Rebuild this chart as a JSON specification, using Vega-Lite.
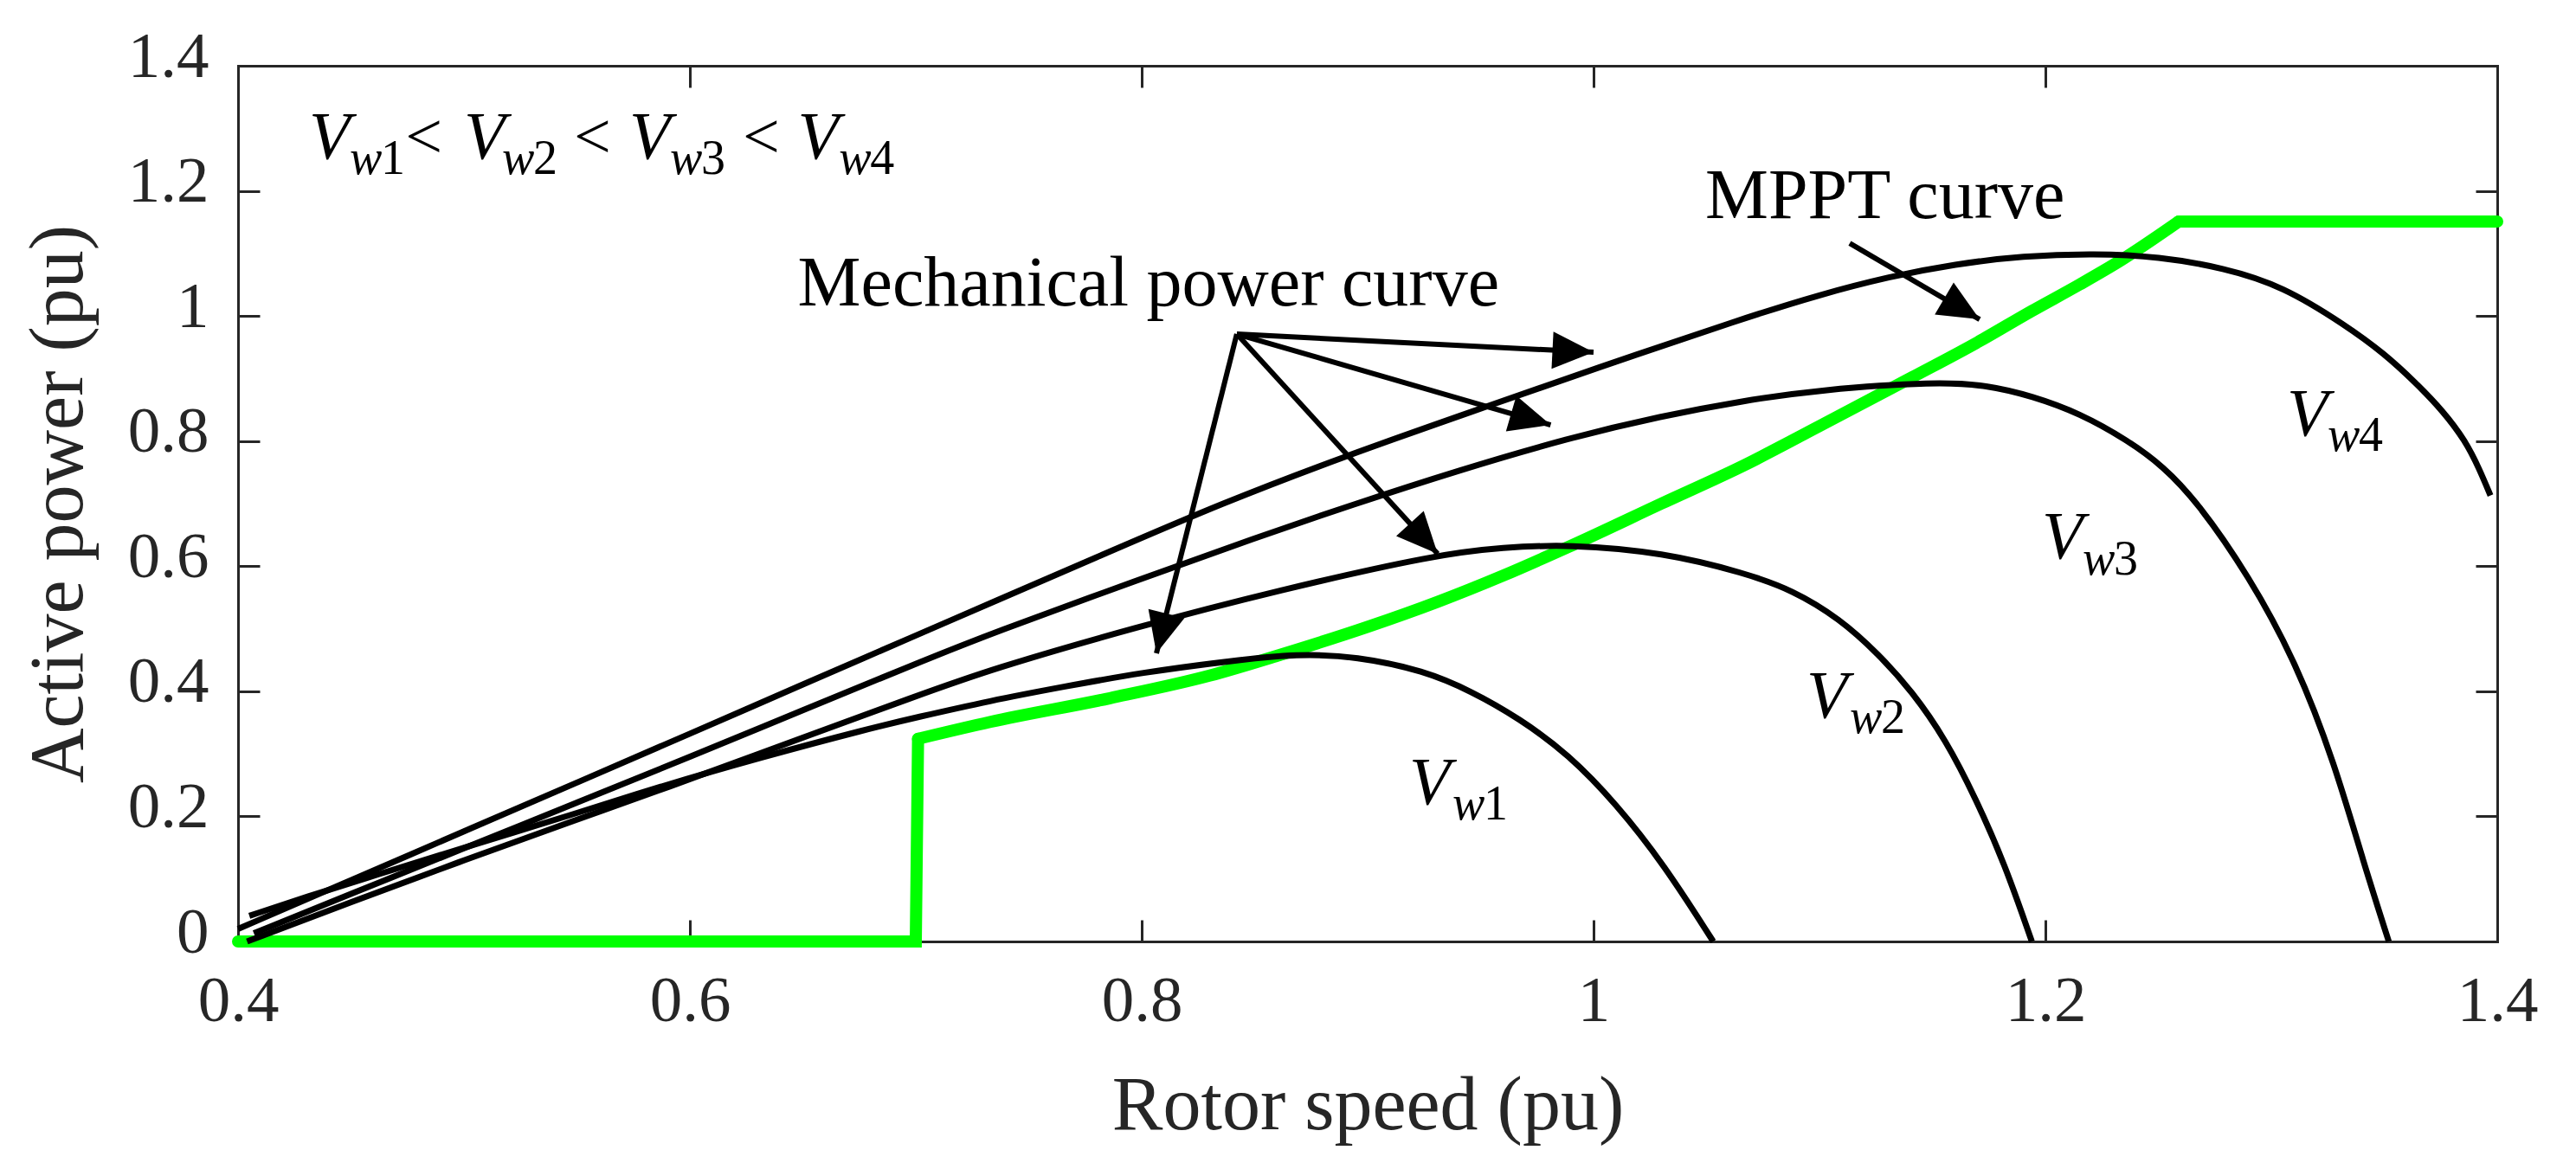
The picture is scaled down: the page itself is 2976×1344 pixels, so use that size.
{
  "$schema": "https://vega.github.io/schema/vega-lite/v6.json",
  "width": 2610,
  "height": 1012,
  "autosize": {"type": "none"},
  "padding": {"left": 275, "top": 76, "right": 91, "bottom": 256},
  "background": "white",
  "config": {"view": {"stroke": null}, "font": "Liberation Serif"},
  "datasets": {
    "green": [
      {"seg": "a", "i": 0, "x": 0.4, "y": 0}, {"seg": "a", "i": 1, "x": 0.7, "y": 0}, {"seg": "a", "i": 2, "x": 0.701, "y": 0.324},
      {"seg": "b", "i": 3, "x": 0.701, "y": 0.324},
      {"seg": "b", "i": 4, "x": 0.733, "y": 0.351}, {"seg": "b", "i": 5, "x": 0.786, "y": 0.389}, {"seg": "b", "i": 6, "x": 0.83, "y": 0.425},
      {"seg": "b", "i": 7, "x": 0.861, "y": 0.458}, {"seg": "b", "i": 8, "x": 0.9, "y": 0.503}, {"seg": "b", "i": 9, "x": 0.931, "y": 0.543},
      {"seg": "b", "i": 10, "x": 0.96, "y": 0.585}, {"seg": "b", "i": 11, "x": 0.989, "y": 0.631}, {"seg": "b", "i": 12, "x": 1.03, "y": 0.7},
      {"seg": "b", "i": 13, "x": 1.067, "y": 0.762}, {"seg": "b", "i": 14, "x": 1.1, "y": 0.824}, {"seg": "b", "i": 15, "x": 1.141, "y": 0.902},
      {"seg": "b", "i": 16, "x": 1.17, "y": 0.958}, {"seg": "b", "i": 17, "x": 1.194, "y": 1.008}, {"seg": "b", "i": 18, "x": 1.215, "y": 1.05},
      {"seg": "b", "i": 19, "x": 1.233, "y": 1.088}, {"seg": "b", "i": 20, "x": 1.259, "y": 1.151},
      {"seg": "c", "i": 21, "x": 1.259, "y": 1.151}, {"seg": "c", "i": 22, "x": 1.4, "y": 1.151}
    ],
    "curves": [
      {"s": "V1", "x": 0.405, "y": 0.041}, {"s": "V1", "x": 0.43, "y": 0.071}, {"s": "V1", "x": 0.46, "y": 0.105},
      {"s": "V1", "x": 0.5, "y": 0.15}, {"s": "V1", "x": 0.55, "y": 0.205}, {"s": "V1", "x": 0.587, "y": 0.248},
      {"s": "V1", "x": 0.63, "y": 0.293}, {"s": "V1", "x": 0.68, "y": 0.341}, {"s": "V1", "x": 0.7, "y": 0.358},
      {"s": "V1", "x": 0.733, "y": 0.385}, {"s": "V1", "x": 0.765, "y": 0.407}, {"s": "V1", "x": 0.8, "y": 0.43},
      {"s": "V1", "x": 0.84, "y": 0.449}, {"s": "V1", "x": 0.869, "y": 0.46}, {"s": "V1", "x": 0.895, "y": 0.456},
      {"s": "V1", "x": 0.925, "y": 0.433}, {"s": "V1", "x": 0.946, "y": 0.4}, {"s": "V1", "x": 0.967, "y": 0.357},
      {"s": "V1", "x": 0.989, "y": 0.299}, {"s": "V1", "x": 1.01, "y": 0.22}, {"s": "V1", "x": 1.031, "y": 0.124},
      {"s": "V1", "x": 1.053, "y": 0.0},
      {"s": "V2", "x": 0.404, "y": 0.0}, {"s": "V2", "x": 0.45, "y": 0.063}, {"s": "V2", "x": 0.5, "y": 0.13},
      {"s": "V2", "x": 0.55, "y": 0.195}, {"s": "V2", "x": 0.587, "y": 0.242}, {"s": "V2", "x": 0.65, "y": 0.326},
      {"s": "V2", "x": 0.7, "y": 0.392}, {"s": "V2", "x": 0.733, "y": 0.435}, {"s": "V2", "x": 0.797, "y": 0.502},
      {"s": "V2", "x": 0.861, "y": 0.562}, {"s": "V2", "x": 0.931, "y": 0.619}, {"s": "V2", "x": 0.96, "y": 0.63},
      {"s": "V2", "x": 0.989, "y": 0.635}, {"s": "V2", "x": 1.031, "y": 0.622}, {"s": "V2", "x": 1.067, "y": 0.589},
      {"s": "V2", "x": 1.088, "y": 0.562}, {"s": "V2", "x": 1.109, "y": 0.516}, {"s": "V2", "x": 1.126, "y": 0.46},
      {"s": "V2", "x": 1.141, "y": 0.4}, {"s": "V2", "x": 1.156, "y": 0.322}, {"s": "V2", "x": 1.169, "y": 0.23},
      {"s": "V2", "x": 1.182, "y": 0.124}, {"s": "V2", "x": 1.194, "y": 0.0},
      {"s": "V3", "x": 0.407, "y": 0.013}, {"s": "V3", "x": 0.45, "y": 0.076}, {"s": "V3", "x": 0.5, "y": 0.149},
      {"s": "V3", "x": 0.55, "y": 0.222}, {"s": "V3", "x": 0.6, "y": 0.295}, {"s": "V3", "x": 0.65, "y": 0.37},
      {"s": "V3", "x": 0.7, "y": 0.444}, {"s": "V3", "x": 0.733, "y": 0.492}, {"s": "V3", "x": 0.8, "y": 0.58},
      {"s": "V3", "x": 0.85, "y": 0.645}, {"s": "V3", "x": 0.893, "y": 0.698}, {"s": "V3", "x": 0.94, "y": 0.753},
      {"s": "V3", "x": 0.989, "y": 0.805}, {"s": "V3", "x": 1.03, "y": 0.84}, {"s": "V3", "x": 1.067, "y": 0.865},
      {"s": "V3", "x": 1.1, "y": 0.882}, {"s": "V3", "x": 1.152, "y": 0.895}, {"s": "V3", "x": 1.175, "y": 0.889},
      {"s": "V3", "x": 1.194, "y": 0.872}, {"s": "V3", "x": 1.215, "y": 0.845}, {"s": "V3", "x": 1.237, "y": 0.8},
      {"s": "V3", "x": 1.252, "y": 0.76}, {"s": "V3", "x": 1.267, "y": 0.704}, {"s": "V3", "x": 1.29, "y": 0.585},
      {"s": "V3", "x": 1.311, "y": 0.446}, {"s": "V3", "x": 1.328, "y": 0.285}, {"s": "V3", "x": 1.341, "y": 0.124},
      {"s": "V3", "x": 1.352, "y": 0.0},
      {"s": "V4", "x": 0.4, "y": 0.02}, {"s": "V4", "x": 0.45, "y": 0.098}, {"s": "V4", "x": 0.5, "y": 0.176},
      {"s": "V4", "x": 0.55, "y": 0.254}, {"s": "V4", "x": 0.6, "y": 0.332}, {"s": "V4", "x": 0.65, "y": 0.411},
      {"s": "V4", "x": 0.7, "y": 0.489}, {"s": "V4", "x": 0.733, "y": 0.541}, {"s": "V4", "x": 0.785, "y": 0.622},
      {"s": "V4", "x": 0.835, "y": 0.7}, {"s": "V4", "x": 0.89, "y": 0.776}, {"s": "V4", "x": 0.946, "y": 0.847},
      {"s": "V4", "x": 1.0, "y": 0.915}, {"s": "V4", "x": 1.067, "y": 0.997}, {"s": "V4", "x": 1.1, "y": 1.034},
      {"s": "V4", "x": 1.131, "y": 1.063}, {"s": "V4", "x": 1.16, "y": 1.083}, {"s": "V4", "x": 1.19, "y": 1.096},
      {"s": "V4", "x": 1.222, "y": 1.1}, {"s": "V4", "x": 1.25, "y": 1.095}, {"s": "V4", "x": 1.279, "y": 1.077},
      {"s": "V4", "x": 1.305, "y": 1.048}, {"s": "V4", "x": 1.333, "y": 0.985}, {"s": "V4", "x": 1.35, "y": 0.94},
      {"s": "V4", "x": 1.364, "y": 0.893}, {"s": "V4", "x": 1.376, "y": 0.848}, {"s": "V4", "x": 1.386, "y": 0.8},
      {"s": "V4", "x": 1.392, "y": 0.756}, {"s": "V4", "x": 1.397, "y": 0.713}
    ],
    "arrows": [
      {"id": "a1", "x": 0.8421, "y": 0.9711, "x2": 1.0, "y2": 0.942},
      {"id": "a2", "x": 0.8421, "y": 0.9711, "x2": 0.981, "y2": 0.8258},
      {"id": "a3", "x": 0.8421, "y": 0.9711, "x2": 0.931, "y2": 0.6197},
      {"id": "a4", "x": 0.8421, "y": 0.9711, "x2": 0.8065, "y2": 0.4606},
      {"id": "m", "x": 1.1134, "y": 1.1163, "x2": 1.1709, "y2": 0.9946}
    ],
    "labels": [
      {"kind": "note", "text": "Mechanical power curve", "x": 0.803, "y": 1.017},
      {"kind": "note", "text": "MPPT curve", "x": 1.129, "y": 1.156},
      {"kind": "V", "text": "V", "x": 0.4314, "y": 1.252},
      {"kind": "sub", "w": "w", "n": "1", "x": 0.4494, "y": 1.227},
      {"kind": "op", "text": "<", "x": 0.474, "y": 1.252},
      {"kind": "V", "text": "V", "x": 0.5, "y": 1.252},
      {"kind": "sub", "w": "w", "n": "2", "x": 0.5169, "y": 1.227},
      {"kind": "op", "text": "<", "x": 0.5487, "y": 1.252},
      {"kind": "V", "text": "V", "x": 0.5732, "y": 1.252},
      {"kind": "sub", "w": "w", "n": "3", "x": 0.5912, "y": 1.227},
      {"kind": "op", "text": "<", "x": 0.6234, "y": 1.252},
      {"kind": "V", "text": "V", "x": 0.6477, "y": 1.252},
      {"kind": "sub", "w": "w", "n": "4", "x": 0.666, "y": 1.227},
      {"kind": "V", "text": "V", "x": 0.9184, "y": 0.22},
      {"kind": "sub", "w": "w", "n": "1", "x": 0.9375, "y": 0.195},
      {"kind": "V", "text": "V", "x": 1.0943, "y": 0.358},
      {"kind": "sub", "w": "w", "n": "2", "x": 1.1134, "y": 0.333},
      {"kind": "V", "text": "V", "x": 1.1985, "y": 0.613},
      {"kind": "sub", "w": "w", "n": "3", "x": 1.2165, "y": 0.587},
      {"kind": "V", "text": "V", "x": 1.3069, "y": 0.809},
      {"kind": "sub", "w": "w", "n": "4", "x": 1.3249, "y": 0.784}
    ]
  },
  "layer": [
    {
      "data": {"name": "green"},
      "transform": [{"filter": "datum.seg !== 'b'"}],
      "mark": {"type": "line", "color": "#00ff00", "strokeWidth": 14, "strokeJoin": "miter", "strokeCap": "round"},
      "encoding": {
        "x": {"field": "x", "type": "quantitative", "scale": {"domain": [0.4, 1.4], "nice": false, "zero": false},
          "axis": {"orient": "bottom", "values": [0.4, 0.6, 0.8, 1, 1.2, 1.4], "format": "~g", "grid": false,
            "tickSize": -25, "tickWidth": 3, "tickColor": "#262626", "domainColor": "#262626", "domainWidth": 3, "domainCap": "square",
            "labelFont": "Liberation Serif", "labelFontSize": 75, "labelColor": "#262626", "labelPadding": 57,
            "labelFlush": false, "labelOverlap": false,
            "title": "Rotor speed (pu)", "titleFont": "Liberation Serif", "titleFontSize": 88, "titleFontWeight": "normal",
            "titleColor": "#262626", "titlePadding": 40}},
        "y": {"field": "y", "type": "quantitative", "scale": {"domain": [0, 1.4], "nice": false, "zero": false},
          "axis": {"orient": "left", "values": [0, 0.2, 0.4, 0.6, 0.8, 1, 1.2, 1.4], "format": "~g", "grid": false,
            "tickSize": -25, "tickWidth": 3, "tickColor": "#262626", "domainColor": "#262626", "domainWidth": 3, "domainCap": "square",
            "labelFont": "Liberation Serif", "labelFontSize": 75, "labelColor": "#262626", "labelPadding": 59, "labelOffset": -11,
            "labelFlush": false, "labelOverlap": false,
            "title": "Active power (pu)", "titleFont": "Liberation Serif", "titleFontSize": 88, "titleFontWeight": "normal",
            "titleColor": "#262626", "titlePadding": 35}},
        "detail": {"field": "seg", "type": "nominal"},
        "order": {"field": "i", "type": "quantitative"}
      }
    },
    {
      "data": {"name": "green"},
      "transform": [{"filter": "datum.seg === 'b'"}],
      "mark": {"type": "line", "color": "#00ff00", "strokeWidth": 14, "strokeCap": "round", "interpolate": "monotone"},
      "encoding": {
        "x": {"field": "x", "type": "quantitative", "scale": {"domain": [0.4, 1.4], "nice": false, "zero": false}, "axis": null},
        "y": {"field": "y", "type": "quantitative", "scale": {"domain": [0, 1.4], "nice": false, "zero": false}, "axis": null},
        "order": {"field": "i", "type": "quantitative"}
      }
    },
    {
      "data": {"name": "curves"},
      "mark": {"type": "line", "color": "black", "strokeWidth": 7, "interpolate": "basis"},
      "encoding": {
        "x": {"field": "x", "type": "quantitative", "scale": {"domain": [0.4, 1.4], "nice": false, "zero": false},
          "axis": {"orient": "top", "values": [0.4, 0.6, 0.8, 1, 1.2, 1.4], "labels": false, "grid": false, "title": null,
            "tickSize": -25, "tickWidth": 3, "tickColor": "#262626", "domainColor": "#262626", "domainWidth": 3, "domainCap": "square"}},
        "y": {"field": "y", "type": "quantitative", "scale": {"domain": [0, 1.4], "nice": false, "zero": false},
          "axis": {"orient": "right", "values": [0, 0.2, 0.4, 0.6, 0.8, 1, 1.2, 1.4], "labels": false, "grid": false, "title": null,
            "tickSize": -25, "tickWidth": 3, "tickColor": "#262626", "domainColor": "#262626", "domainWidth": 3, "domainCap": "square"}},
        "detail": {"field": "s", "type": "nominal"}
      }
    },
    {
      "data": {"name": "arrows"},
      "mark": {"type": "rule", "color": "black", "strokeWidth": 6},
      "encoding": {
        "x": {"field": "x", "type": "quantitative", "scale": {"domain": [0.4, 1.4], "nice": false, "zero": false}, "axis": null},
        "y": {"field": "y", "type": "quantitative", "scale": {"domain": [0, 1.4], "nice": false, "zero": false}, "axis": null},
        "x2": {"field": "x2"},
        "y2": {"field": "y2"}
      }
    },
    {
      "data": {"name": "arrows"},
      "transform": [{"filter": "datum.id === 'a1'"}],
      "mark": {"type": "point", "shape": "M0,0L0.86,1.9L-0.86,1.9Z", "size": 2500, "filled": true, "color": "black", "opacity": 1, "strokeWidth": 0, "angle": 92.9},
      "encoding": {
        "x": {"field": "x2", "type": "quantitative", "scale": {"domain": [0.4, 1.4], "nice": false, "zero": false}, "axis": null},
        "y": {"field": "y2", "type": "quantitative", "scale": {"domain": [0, 1.4], "nice": false, "zero": false}, "axis": null}
      }
    },
    {
      "data": {"name": "arrows"},
      "transform": [{"filter": "datum.id === 'a2'"}],
      "mark": {"type": "point", "shape": "M0,0L0.86,1.9L-0.86,1.9Z", "size": 2500, "filled": true, "color": "black", "opacity": 1, "strokeWidth": 0, "angle": 106.2},
      "encoding": {
        "x": {"field": "x2", "type": "quantitative", "scale": {"domain": [0.4, 1.4], "nice": false, "zero": false}, "axis": null},
        "y": {"field": "y2", "type": "quantitative", "scale": {"domain": [0, 1.4], "nice": false, "zero": false}, "axis": null}
      }
    },
    {
      "data": {"name": "arrows"},
      "transform": [{"filter": "datum.id === 'a3'"}],
      "mark": {"type": "point", "shape": "M0,0L0.86,1.9L-0.86,1.9Z", "size": 2500, "filled": true, "color": "black", "opacity": 1, "strokeWidth": 0, "angle": 137.6},
      "encoding": {
        "x": {"field": "x2", "type": "quantitative", "scale": {"domain": [0.4, 1.4], "nice": false, "zero": false}, "axis": null},
        "y": {"field": "y2", "type": "quantitative", "scale": {"domain": [0, 1.4], "nice": false, "zero": false}, "axis": null}
      }
    },
    {
      "data": {"name": "arrows"},
      "transform": [{"filter": "datum.id === 'a4'"}],
      "mark": {"type": "point", "shape": "M0,0L0.86,1.9L-0.86,1.9Z", "size": 2500, "filled": true, "color": "black", "opacity": 1, "strokeWidth": 0, "angle": 194.1},
      "encoding": {
        "x": {"field": "x2", "type": "quantitative", "scale": {"domain": [0.4, 1.4], "nice": false, "zero": false}, "axis": null},
        "y": {"field": "y2", "type": "quantitative", "scale": {"domain": [0, 1.4], "nice": false, "zero": false}, "axis": null}
      }
    },
    {
      "data": {"name": "arrows"},
      "transform": [{"filter": "datum.id === 'm'"}],
      "mark": {"type": "point", "shape": "M0,0L0.86,1.9L-0.86,1.9Z", "size": 2500, "filled": true, "color": "black", "opacity": 1, "strokeWidth": 0, "angle": 120.4},
      "encoding": {
        "x": {"field": "x2", "type": "quantitative", "scale": {"domain": [0.4, 1.4], "nice": false, "zero": false}, "axis": null},
        "y": {"field": "y2", "type": "quantitative", "scale": {"domain": [0, 1.4], "nice": false, "zero": false}, "axis": null}
      }
    },
    {
      "data": {"name": "labels"},
      "transform": [{"filter": "datum.kind === 'note'"}],
      "mark": {"type": "text", "font": "Liberation Serif", "fontSize": 82, "align": "center", "baseline": "alphabetic", "color": "black"},
      "encoding": {
        "x": {"field": "x", "type": "quantitative", "scale": {"domain": [0.4, 1.4], "nice": false, "zero": false}, "axis": null},
        "y": {"field": "y", "type": "quantitative", "scale": {"domain": [0, 1.4], "nice": false, "zero": false}, "axis": null},
        "text": {"field": "text"}
      }
    },
    {
      "data": {"name": "labels"},
      "transform": [{"filter": "datum.kind === 'V'"}],
      "mark": {"type": "text", "font": "Liberation Serif", "fontSize": 78, "fontStyle": "italic", "align": "left", "baseline": "alphabetic", "color": "black"},
      "encoding": {
        "x": {"field": "x", "type": "quantitative", "scale": {"domain": [0.4, 1.4], "nice": false, "zero": false}, "axis": null},
        "y": {"field": "y", "type": "quantitative", "scale": {"domain": [0, 1.4], "nice": false, "zero": false}, "axis": null},
        "text": {"field": "text"}
      }
    },
    {
      "data": {"name": "labels"},
      "transform": [{"filter": "datum.kind === 'sub'"}],
      "mark": {"type": "text", "font": "Liberation Serif", "fontSize": 56, "fontStyle": "italic", "align": "left", "baseline": "alphabetic", "color": "black"},
      "encoding": {
        "x": {"field": "x", "type": "quantitative", "scale": {"domain": [0.4, 1.4], "nice": false, "zero": false}, "axis": null},
        "y": {"field": "y", "type": "quantitative", "scale": {"domain": [0, 1.4], "nice": false, "zero": false}, "axis": null},
        "text": {"field": "w"}
      }
    },
    {
      "data": {"name": "labels"},
      "transform": [{"filter": "datum.kind === 'sub'"}],
      "mark": {"type": "text", "font": "Liberation Serif", "fontSize": 56, "align": "left", "baseline": "alphabetic", "color": "black", "dx": 36},
      "encoding": {
        "x": {"field": "x", "type": "quantitative", "scale": {"domain": [0.4, 1.4], "nice": false, "zero": false}, "axis": null},
        "y": {"field": "y", "type": "quantitative", "scale": {"domain": [0, 1.4], "nice": false, "zero": false}, "axis": null},
        "text": {"field": "n"}
      }
    },
    {
      "data": {"name": "labels"},
      "transform": [{"filter": "datum.kind === 'op'"}],
      "mark": {"type": "text", "font": "Liberation Serif", "fontSize": 76, "align": "left", "baseline": "alphabetic", "color": "black"},
      "encoding": {
        "x": {"field": "x", "type": "quantitative", "scale": {"domain": [0.4, 1.4], "nice": false, "zero": false}, "axis": null},
        "y": {"field": "y", "type": "quantitative", "scale": {"domain": [0, 1.4], "nice": false, "zero": false}, "axis": null},
        "text": {"field": "text"}
      }
    }
  ],
  "resolve": {
    "scale": {"x": "independent", "y": "independent"},
    "axis": {"x": "independent", "y": "independent"}
  }
}
